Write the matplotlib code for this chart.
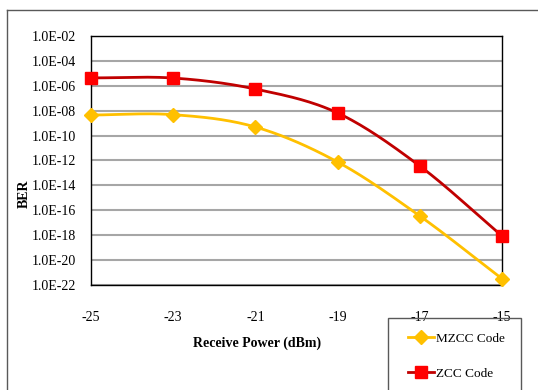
import numpy as np
import matplotlib.pyplot as plt
from matplotlib.patches import Rectangle
from matplotlib.lines import Line2D

power = [-25, -23, -21, -19, -17, -15]
tick_labels = ['-25', '-23', '-21', '-19', '-17', '-15']
ber_mzcc = [4.5e-9, 4.8e-9, 4.9e-10, 7.6e-13, 3.5e-17, 3.2e-22]
ber_zcc = [4.3e-6, 4.2e-6, 5.5e-7, 6.6e-9, 3.6e-13, 8.7e-19]

plt.rcParams['font.family'] = ['Liberation Serif', 'DejaVu Serif']


def smooth(x, y, n=30):
    # Catmull-Rom curve through the points, done in log space like a smoothed line chart
    x = np.asarray(x, float)
    ly = np.log10(y)
    px = np.concatenate([[2 * x[0] - x[1]], x, [2 * x[-1] - x[-2]]])
    py = np.concatenate([[2 * ly[0] - ly[1]], ly, [2 * ly[-1] - ly[-2]]])
    xs, ys = [], []
    t = np.linspace(0, 1, n)
    for i in range(1, len(px) - 2):
        for p, out in ((px, xs), (py, ys)):
            p0, p1, p2, p3 = p[i - 1], p[i], p[i + 1], p[i + 2]
            out.append(0.5 * ((2 * p1) + (-p0 + p2) * t
                              + (2 * p0 - 5 * p1 + 4 * p2 - p3) * t ** 2
                              + (-p0 + 3 * p1 - 3 * p2 + p3) * t ** 3))
    return np.concatenate(xs), 10 ** np.concatenate(ys)


fig = plt.figure(figsize=(5.38, 3.9), dpi=100)
ax = fig.add_axes([91 / 538, 1 - 285 / 390, 411 / 538, 249 / 390])

mz_col = '#FFC000'
zc_line = '#C00000'
zc_mark = '#FF0000'

sx, sy = smooth(power, ber_mzcc)
ax.plot(sx, sy, color=mz_col, lw=2, zorder=3)
ax.plot(power, ber_mzcc, ls='none', marker='D', ms=7.5, color=mz_col,
        zorder=4, clip_on=False)
sx, sy = smooth(power, ber_zcc)
ax.plot(sx, sy, color=zc_line, lw=2, zorder=3)
ax.plot(power, ber_zcc, ls='none', marker='s', ms=9, color=zc_mark,
        zorder=4, clip_on=False)

ax.set_yscale('log')
ax.set_ylim(1e-22, 1e-2)
ax.set_xlim(-25, -15)
yt = [10.0 ** e for e in range(-22, -1, 2)]
ax.set_yticks(yt)
ax.set_yticklabels(['1.0E-%02d' % -e for e in range(-22, -1, 2)])
ax.minorticks_off()
ax.set_xticks(power)
ax.set_xticklabels(tick_labels)
ax.tick_params(length=0, labelsize=10, colors='black')
ax.tick_params(axis='x', pad=19)
ax.tick_params(axis='y', pad=11)
ax.grid(axis='y', color='#A6A6A6', lw=1.5)
ax.set_axisbelow(True)
for s in ax.spines.values():
    s.set_color('black')
    s.set_linewidth(1)

ax.set_xlabel('Receive Power (dBm)', fontsize=10, fontweight='bold')
ax.xaxis.set_label_coords((257 - 91) / 411, -(343 - 285) / 249)
ax.xaxis.label.set_va('center')
ax.set_ylabel('BER', fontsize=10, fontweight='bold')
ax.yaxis.set_label_coords((24 - 91) / 411, 1 - (194 - 36) / 249)
ax.yaxis.label.set_va('center')

# outer chart frame
fig.add_artist(Line2D([7 / 538, 1], [1 - 10 / 390] * 2, color='#595959', lw=1))
fig.add_artist(Line2D([7 / 538] * 2, [0, 1 - 10 / 390], color='#595959', lw=1))

# legend box, running off the bottom edge
fig.add_artist(Rectangle((388 / 538, -0.05), 133 / 538, 0.05 + 1 - 318 / 390,
                         transform=fig.transFigure, fill=False,
                         edgecolor='#595959', lw=1))
handles = [Line2D([], [], color=mz_col, lw=2, marker='D', ms=7.5),
           Line2D([], [], color=zc_line, lw=2, marker='s', ms=9,
                  markerfacecolor=zc_mark, markeredgecolor=zc_mark)]
fig.legend(handles, ['MZCC Code', 'ZCC Code'], loc='upper left',
           bbox_to_anchor=(396 / 538, 1 - 321 / 390), frameon=False,
           fontsize=9.5, handlelength=2.0, handletextpad=0.1, labelspacing=1.7)

fig.savefig('out.png', dpi=100)
